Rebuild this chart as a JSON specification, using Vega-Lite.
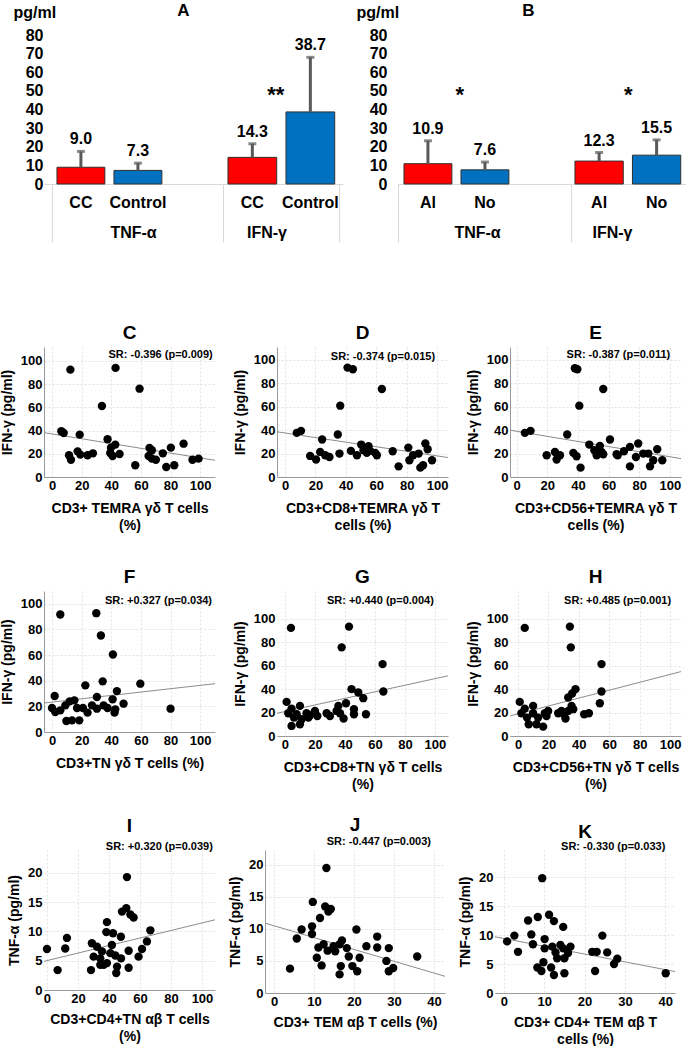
{
  "$schema": "https://vega.github.io/schema/vega-lite/v6.json",
  "padding": {"left": 0, "top": 2, "right": 0, "bottom": 0},
  "background": "white",
  "config": {
    "font": "Liberation Sans",
    "view": {"stroke": null},
    "axis": {"labelFontSize": 13, "labelFontWeight": "bold", "labelColor": "#000", "titleFontSize": 14, "titleFontWeight": "bold", "titleColor": "#000", "ticks": false, "domainColor": "#9a9a9a", "grid": true, "gridColor": "#e3e3e3", "gridDash": [2, 2], "labelPadding": 2, "titlePadding": 6, "titleLineHeight": 17, "labelOverlap": false, "labelFlush": false},
    "axisX": {"titlePadding": 9},
    "title": {"fontSize": 19, "fontWeight": "bold", "color": "#000", "offset": 4},
    "text": {"color": "#000"}
  },
  "datasets": {
    "barsA": [
      {"cytokine": "TNF-α", "group": "CC", "mean": 9.0, "upper": 17.5},
      {"cytokine": "TNF-α", "group": "Control", "mean": 7.3, "upper": 11.2},
      {"cytokine": "IFN-γ", "group": "CC", "mean": 14.3, "upper": 21.6},
      {"cytokine": "IFN-γ", "group": "Control", "mean": 38.7, "upper": 68.0}
    ],
    "barsB": [
      {"cytokine": "TNF-α", "group": "Al", "mean": 10.9, "upper": 23.2},
      {"cytokine": "TNF-α", "group": "No", "mean": 7.6, "upper": 11.8},
      {"cytokine": "IFN-γ", "group": "Al", "mean": 12.3, "upper": 16.9},
      {"cytokine": "IFN-γ", "group": "No", "mean": 15.5, "upper": 23.7}
    ],
    "ptsC": [{"x":12.4,"y":92.5},{"x":42.9,"y":94},{"x":59.1,"y":76.1},{"x":33.7,"y":61.2},{"x":6.3,"y":39.4},{"x":7.9,"y":37.9},{"x":18.7,"y":36.5},{"x":37.5,"y":32.5},{"x":42.7,"y":27.9},{"x":39.8,"y":25.3},{"x":11.5,"y":18.7},{"x":12.8,"y":14.9},{"x":17.3,"y":22.1},{"x":19.1,"y":19.3},{"x":24,"y":18.7},{"x":27.6,"y":20.4},{"x":39.3,"y":20.7},{"x":40.9,"y":18.1},{"x":45.6,"y":19.8},{"x":56.2,"y":10.1},{"x":65.2,"y":18.1},{"x":67.4,"y":23},{"x":65.8,"y":25},{"x":70.1,"y":14.9},{"x":74.8,"y":20.4},{"x":77.1,"y":8.6},{"x":80.2,"y":25.3},{"x":82.5,"y":10.1},{"x":88.8,"y":28.7},{"x":94.8,"y":14.9},{"x":98.9,"y":15.8},{"x":67.4,"y":15.8}],
    "fitC": [{"x": -5.4, "y": 38.2}, {"x": 110, "y": 14.4}],
    "ptsD": [{"x":41.1,"y":93.4},{"x":44.6,"y":92},{"x":63.7,"y":75.1},{"x":36.3,"y":60.9},{"x":7.7,"y":37.7},{"x":10.5,"y":39.4},{"x":24.4,"y":32},{"x":34.7,"y":36.3},{"x":16.5,"y":18},{"x":20.4,"y":14.9},{"x":23.1,"y":21.4},{"x":26.4,"y":18.6},{"x":29.2,"y":17.1},{"x":35.8,"y":20},{"x":43.3,"y":22.3},{"x":47.3,"y":18.6},{"x":50.1,"y":27.7},{"x":51.6,"y":22.9},{"x":53.8,"y":20.6},{"x":54.9,"y":26.3},{"x":60.4,"y":18.6},{"x":59.3,"y":20.6},{"x":70.8,"y":22},{"x":74.7,"y":9.1},{"x":81.1,"y":25.1},{"x":81.8,"y":14.3},{"x":84.2,"y":18.6},{"x":87.9,"y":20},{"x":89,"y":8},{"x":90.8,"y":10},{"x":92.3,"y":28.6},{"x":93.8,"y":23.7},{"x":96.7,"y":14.3},{"x":56,"y":22.3}],
    "fitD": [{"x": -5.3, "y": 38.6}, {"x": 107.2, "y": 16.6}],
    "ptsE": [{"x":38,"y":92.9},{"x":39.6,"y":92},{"x":56.5,"y":75.1},{"x":40.9,"y":60.9},{"x":5.4,"y":37.7},{"x":9.1,"y":39.4},{"x":33,"y":36.3},{"x":60.9,"y":32},{"x":19.6,"y":18.6},{"x":25,"y":21.4},{"x":26.1,"y":14.9},{"x":28.3,"y":18.6},{"x":37,"y":20.6},{"x":39.1,"y":17.7},{"x":41.7,"y":8},{"x":47.4,"y":27.7},{"x":50.7,"y":22.9},{"x":52.2,"y":18.6},{"x":54.3,"y":26.6},{"x":55.4,"y":21.4},{"x":56.5,"y":19.4},{"x":65.2,"y":19.4},{"x":70,"y":22},{"x":73.9,"y":25.7},{"x":73.9,"y":9.1},{"x":79.3,"y":28.6},{"x":77.8,"y":17.1},{"x":82.6,"y":20},{"x":85.9,"y":20},{"x":87,"y":9.1},{"x":89.1,"y":14.3},{"x":91.7,"y":23.7},{"x":95,"y":14.3},{"x":65.9,"y":18.6}],
    "fitE": [{"x": -4.3, "y": 40}, {"x": 107.2, "y": 15.7}],
    "ptsF": [{"x":5.6,"y":91.7},{"x":29.9,"y":92.7},{"x":33,"y":75.3},{"x":41.1,"y":60.5},{"x":34.2,"y":39.5},{"x":22.5,"y":36.4},{"x":59.6,"y":37.7},{"x":43.8,"y":31.9},{"x":1.8,"y":28.1},{"x":30.3,"y":27.3},{"x":40.9,"y":25.5},{"x":48.3,"y":22.1},{"x":0,"y":18.7},{"x":2.2,"y":15.6},{"x":5.6,"y":16.9},{"x":9,"y":20.8},{"x":11.9,"y":23.9},{"x":15.1,"y":24.7},{"x":9.7,"y":8.6},{"x":13.5,"y":9.1},{"x":18.4,"y":9.1},{"x":16.9,"y":18.7},{"x":20.9,"y":18.7},{"x":24,"y":15.1},{"x":27,"y":20.8},{"x":30.3,"y":18.2},{"x":34.8,"y":20.8},{"x":37.5,"y":18.7},{"x":42.2,"y":15.1},{"x":42.7,"y":17.7},{"x":80,"y":18.2}],
    "fitF": [{"x": -5.4, "y": 22.6}, {"x": 110, "y": 37.7}],
    "ptsG": [{"x":4,"y":92.3},{"x":42.7,"y":93.4},{"x":37.8,"y":75.7},{"x":65.1,"y":61.4},{"x":65.6,"y":38},{"x":44.4,"y":40},{"x":48.9,"y":37.1},{"x":52.2,"y":32.3},{"x":40.7,"y":28},{"x":35.6,"y":25.7},{"x":1.1,"y":29.1},{"x":10,"y":25.7},{"x":46,"y":22.9},{"x":46,"y":18.6},{"x":54,"y":18.6},{"x":39.1,"y":14.9},{"x":2.2,"y":19.4},{"x":4.4,"y":23.4},{"x":6,"y":15.7},{"x":4.4,"y":8.6},{"x":10,"y":10},{"x":14.4,"y":19.4},{"x":15.6,"y":15.7},{"x":20,"y":21.4},{"x":21.6,"y":17.1},{"x":27.8,"y":19.4},{"x":30,"y":17.1},{"x":34.4,"y":21.4},{"x":36.7,"y":19.4},{"x":7.8,"y":18.6},{"x":11.1,"y":14.3},{"x":16.7,"y":17.7}],
    "fitG": [{"x": -5.3, "y": 19.4}, {"x": 108.7, "y": 51.4}],
    "ptsH": [{"x":4.4,"y":92.3},{"x":34.1,"y":93.4},{"x":34.7,"y":75.7},{"x":54.9,"y":61.4},{"x":54.9,"y":38},{"x":53.8,"y":28},{"x":37.8,"y":40},{"x":35.6,"y":36.3},{"x":33,"y":32.9},{"x":35.2,"y":25.7},{"x":1.1,"y":29.1},{"x":9.9,"y":25.7},{"x":36.3,"y":22.9},{"x":43.5,"y":18.6},{"x":46.6,"y":19.4},{"x":31.2,"y":14.9},{"x":2.2,"y":19.4},{"x":4.4,"y":23.4},{"x":5.9,"y":15.7},{"x":7,"y":10},{"x":12.1,"y":10},{"x":16.5,"y":8},{"x":17.6,"y":19.4},{"x":19.8,"y":21.4},{"x":18.7,"y":17.1},{"x":26.4,"y":19.4},{"x":28.6,"y":21.4},{"x":30.3,"y":18.6},{"x":33,"y":21.4},{"x":9.9,"y":19.4},{"x":13.2,"y":15.7}],
    "fitH": [{"x": -5.3, "y": 17.1}, {"x": 107.2, "y": 55}],
    "ptsI": [{"x":0,"y":7},{"x":6.9,"y":3.4},{"x":11.8,"y":7.1},{"x":12.9,"y":8.9},{"x":29,"y":8},{"x":28.4,"y":3.4},{"x":32.3,"y":7.4},{"x":34.4,"y":5.4},{"x":35.5,"y":6.6},{"x":34.4,"y":4.3},{"x":38.7,"y":4.6},{"x":38.7,"y":11.6},{"x":38.3,"y":9.9},{"x":42.6,"y":9.7},{"x":41.9,"y":7.7},{"x":40.9,"y":6.3},{"x":44.1,"y":5.9},{"x":44.7,"y":2.9},{"x":45.2,"y":4},{"x":47.7,"y":9.1},{"x":48.4,"y":13.4},{"x":51.2,"y":14},{"x":51.6,"y":19.3},{"x":53.8,"y":12.9},{"x":55.9,"y":12.4},{"x":52.7,"y":6.7},{"x":47.8,"y":5.4},{"x":52.7,"y":3.8},{"x":59.1,"y":5.7},{"x":61.3,"y":7},{"x":64.5,"y":8.3},{"x":66.7,"y":10.2},{"x":30.1,"y":5.7},{"x":36.6,"y":4.3}],
    "fitI": [{"x": -1.9, "y": 4.9}, {"x": 108.4, "y": 12}],
    "ptsJ": [{"x":4,"y":3.8},{"x":5.7,"y":8.5},{"x":6.9,"y":9.9},{"x":9.5,"y":10.4},{"x":9.5,"y":9.2},{"x":9.7,"y":14.2},{"x":11.5,"y":11.7},{"x":13.1,"y":19.5},{"x":12.8,"y":13.5},{"x":13.6,"y":12.7},{"x":14.2,"y":13.1},{"x":10.7,"y":5.5},{"x":11.9,"y":4.3},{"x":11.1,"y":7.1},{"x":12.4,"y":7.6},{"x":13.4,"y":6.6},{"x":14.9,"y":7.3},{"x":15.3,"y":6.5},{"x":16.4,"y":7.6},{"x":17,"y":8.2},{"x":16.7,"y":4.2},{"x":16.4,"y":2.9},{"x":18.2,"y":7},{"x":18.7,"y":5.7},{"x":19.6,"y":4.2},{"x":20.8,"y":3.4},{"x":20.6,"y":9.9},{"x":21.4,"y":5.5},{"x":23.1,"y":7.3},{"x":25.8,"y":8.8},{"x":25.8,"y":7.1},{"x":28.1,"y":5},{"x":28.7,"y":7},{"x":28.7,"y":3.4},{"x":29.8,"y":3.9},{"x":35.8,"y":5.7}],
    "fitJ": [{"x": -2.25, "y": 10.9}, {"x": 42.75, "y": 2.6}],
    "ptsK": [{"x":0.8,"y":8.9},{"x":2.6,"y":9.9},{"x":3.5,"y":7.1},{"x":6,"y":12.5},{"x":6.8,"y":10.1},{"x":7.2,"y":8.4},{"x":8.4,"y":13.1},{"x":8.3,"y":4.4},{"x":9.3,"y":3.8},{"x":9.8,"y":5.3},{"x":10.1,"y":9.3},{"x":10.1,"y":7.7},{"x":11.2,"y":13.5},{"x":9.5,"y":19.8},{"x":12.4,"y":12.4},{"x":12,"y":8},{"x":11.7,"y":4.4},{"x":12.4,"y":3.1},{"x":13.2,"y":6},{"x":12.8,"y":7},{"x":14.7,"y":11.4},{"x":14.7,"y":7.7},{"x":15,"y":3.4},{"x":15,"y":6},{"x":15.9,"y":6.9},{"x":16.5,"y":8},{"x":21.9,"y":7.1},{"x":23,"y":7.1},{"x":22.6,"y":3.8},{"x":24.4,"y":9.9},{"x":25.6,"y":7},{"x":27.3,"y":5},{"x":28.1,"y":5.9},{"x":40.1,"y":3.4},{"x":14,"y":8.3}],
    "fitK": [{"x": -2.2, "y": 9.7}, {"x": 42.4, "y": 3.7}]
  },
  "vconcat": [
    {
      "hconcat": [
        {
          "title": {"text": "A", "fontSize": 17, "anchor": "middle", "dx": 12, "offset": -16},
          "hconcat": [
            {
              "vconcat": [
                {
                  "width": 179, "height": 149,
                  "data": {"name": "barsA"},
                  "transform": [{"filter": {"field": "cytokine", "equal": "TNF-α"}}],
                  "encoding": {"x": {"field": "group", "type": "nominal", "scale": {"type": "band", "domain": ["CC", "Control"], "paddingInner": 0.16, "paddingOuter": 0.65, "align": 0.175}, "axis": {"labels": false, "ticks": false, "grid": false, "title": null, "domain": true, "domainColor": "#d9d9d9"}}},
                  "layer": [
                    {"mark": {"type": "bar", "stroke": "#303030", "strokeWidth": 1},
                     "encoding": {
                       "y": {"field": "mean", "type": "quantitative", "scale": {"domain": [0, 80], "nice": false}, "axis": {"values": [0,10,20,30,40,50,60,70,80], "tickCount": 20, "labelOverlap": false, "title": "pg/ml", "titleAngle": 0, "titleAlign": "left", "titleBaseline": "middle", "titleX": -31, "titleY": -23, "titleFontSize": 16, "labelFontSize": 16, "labelPadding": 1, "domain": false, "grid": false, "minExtent": 44}},
                       "color": {"field": "group", "type": "nominal", "scale": {"domain": ["CC", "Control"], "range": ["#ff0000", "#0070c0"]}, "legend": null}}},
                    {"mark": {"type": "rule", "color": "#595959", "strokeWidth": 3}, "encoding": {"y": {"field": "mean", "type": "quantitative"}, "y2": {"field": "upper"}}},
                    {"mark": {"type": "tick", "color": "#595959", "thickness": 3, "size": 8}, "encoding": {"y": {"field": "upper", "type": "quantitative"}}},
                    {"mark": {"type": "text", "baseline": "bottom", "dy": -4, "fontSize": 16, "fontWeight": "bold"}, "encoding": {"y": {"field": "upper", "type": "quantitative"}, "text": {"field": "mean", "type": "quantitative", "format": ".1f"}}}
                  ]
                },
                {
                  "width": 179, "height": 58,
                  "data": {"name": "barsA"},
                  "transform": [{"filter": {"field": "cytokine", "equal": "TNF-α"}}],
                  "layer": [
                    {"mark": {"type": "text", "fontSize": 16, "fontWeight": "bold"},
                     "encoding": {
                       "x": {"field": "group", "type": "nominal", "scale": {"type": "band", "domain": ["CC", "Control"], "paddingInner": 0.16, "paddingOuter": 0.65, "align": 0.175}, "axis": null},
                       "y": {"datum": 0.68, "scale": {"domain": [0, 1]}, "axis": {"title": null, "labels": false, "ticks": false, "grid": false, "domain": true, "domainColor": "#d9d9d9", "minExtent": 0, "offset": -8}},
                       "text": {"field": "group", "type": "nominal"}}},
                    {"transform": [{"aggregate": [{"op": "count", "as": "n"}], "groupby": ["cytokine"]}],
                     "mark": {"type": "text", "fontSize": 16, "fontWeight": "bold", "dx": 0},
                     "encoding": {"y": {"datum": 0.15}, "text": {"field": "cytokine", "type": "nominal"}}}
                  ]
                }
              ],
              "spacing": 0, "bounds": "flush",
              "resolve": {"scale": {"x": "independent", "y": "independent"}}
            },
            {
              "vconcat": [
                {
                  "width": 120, "height": 149,
                  "data": {"name": "barsA"},
                  "transform": [{"filter": {"field": "cytokine", "equal": "IFN-γ"}}],
                  "encoding": {"x": {"field": "group", "type": "nominal", "scale": {"type": "band", "domain": ["CC", "Control"], "paddingInner": 0.16, "paddingOuter": 0.1145, "align": 0.376}, "axis": {"labels": false, "ticks": false, "grid": false, "title": null, "domain": true, "domainColor": "#d9d9d9"}}},
                  "layer": [
                    {"mark": {"type": "bar", "stroke": "#303030", "strokeWidth": 1},
                     "encoding": {
                       "y": {"field": "mean", "type": "quantitative", "scale": {"domain": [0, 80], "nice": false}, "axis": null},
                       "color": {"field": "group", "type": "nominal", "scale": {"domain": ["CC", "Control"], "range": ["#ff0000", "#0070c0"]}, "legend": null}}},
                    {"mark": {"type": "rule", "color": "#595959", "strokeWidth": 3}, "encoding": {"y": {"field": "mean", "type": "quantitative", "axis": null}, "y2": {"field": "upper"}}},
                    {"mark": {"type": "tick", "color": "#595959", "thickness": 3, "size": 8}, "encoding": {"y": {"field": "upper", "type": "quantitative", "axis": null}}},
                    {"mark": {"type": "text", "baseline": "bottom", "dy": -4, "fontSize": 16, "fontWeight": "bold"}, "encoding": {"y": {"field": "upper", "type": "quantitative", "axis": null}, "text": {"field": "mean", "type": "quantitative", "format": ".1f"}}},
                    {"data": {"values": [{"cytokine": "IFN-γ", "group": "CC", "sig": "**"}]},
                     "mark": {"type": "text", "fontSize": 22, "fontWeight": "bold", "dx": -1},
                     "encoding": {"x": {"field": "group", "type": "nominal", "bandPosition": 1}, "y": {"datum": 48, "axis": null}, "text": {"field": "sig", "type": "nominal"}}}
                  ]
                },
                {
                  "width": 120, "height": 58,
                  "data": {"name": "barsA"},
                  "transform": [{"filter": {"field": "cytokine", "equal": "IFN-γ"}}],
                  "layer": [
                    {"mark": {"type": "text", "fontSize": 16, "fontWeight": "bold"},
                     "encoding": {
                       "x": {"field": "group", "type": "nominal", "scale": {"type": "band", "domain": ["CC", "Control"], "paddingInner": 0.16, "paddingOuter": 0.1145, "align": 0.376}, "axis": null},
                       "y": {"datum": 0.68, "scale": {"domain": [0, 1]}, "axis": {"title": null, "labels": false, "ticks": false, "grid": false, "domain": true, "domainColor": "#d9d9d9", "minExtent": 0}},
                       "text": {"field": "group", "type": "nominal"}}},
                    {"transform": [{"aggregate": [{"op": "count", "as": "n"}], "groupby": ["cytokine"]}],
                     "mark": {"type": "text", "fontSize": 16, "fontWeight": "bold", "dx": -16},
                     "encoding": {"y": {"datum": 0.15, "axis": {"orient": "right", "title": null, "labels": false, "ticks": false, "grid": false, "domain": true, "domainColor": "#d9d9d9", "minExtent": 0, "offset": -4}}, "text": {"field": "cytokine", "type": "nominal"}}}
                  ],
                  "resolve": {"axis": {"y": "independent"}}
                }
              ],
              "spacing": 0, "bounds": "flush",
              "resolve": {"scale": {"x": "independent", "y": "independent"}}
            }
          ],
          "spacing": 0,
          "resolve": {"scale": {"x": "independent", "y": "independent", "color": "independent"}}
        },
        {
          "title": {"text": "B", "fontSize": 17, "anchor": "middle", "dx": 14, "offset": -16},
          "hconcat": [
            {
              "vconcat": [
                {
                  "width": 173, "height": 149,
                  "data": {"name": "barsB"},
                  "transform": [{"filter": {"field": "cytokine", "equal": "TNF-α"}}],
                  "encoding": {"x": {"field": "group", "type": "nominal", "scale": {"type": "band", "domain": ["Al", "No"], "paddingInner": 0.16, "paddingOuter": 0.5975, "align": 0.088}, "axis": {"labels": false, "ticks": false, "grid": false, "title": null, "domain": true, "domainColor": "#d9d9d9"}}},
                  "layer": [
                    {"mark": {"type": "bar", "stroke": "#303030", "strokeWidth": 1},
                     "encoding": {
                       "y": {"field": "mean", "type": "quantitative", "scale": {"domain": [0, 80], "nice": false}, "axis": {"values": [0,10,20,30,40,50,60,70,80], "tickCount": 20, "labelOverlap": false, "title": "pg/ml", "titleAngle": 0, "titleAlign": "left", "titleBaseline": "middle", "titleX": -42, "titleY": -23, "titleFontSize": 16, "labelFontSize": 16, "labelPadding": 11, "domain": false, "grid": false, "minExtent": 55}},
                       "color": {"field": "group", "type": "nominal", "scale": {"domain": ["Al", "No"], "range": ["#ff0000", "#0070c0"]}, "legend": null}}},
                    {"mark": {"type": "rule", "color": "#595959", "strokeWidth": 3}, "encoding": {"y": {"field": "mean", "type": "quantitative"}, "y2": {"field": "upper"}}},
                    {"mark": {"type": "tick", "color": "#595959", "thickness": 3, "size": 8}, "encoding": {"y": {"field": "upper", "type": "quantitative"}}},
                    {"mark": {"type": "text", "baseline": "bottom", "dy": -4, "fontSize": 16, "fontWeight": "bold"}, "encoding": {"y": {"field": "upper", "type": "quantitative"}, "text": {"field": "mean", "type": "quantitative", "format": ".1f"}}},
                    {"data": {"values": [{"cytokine": "TNF-α", "group": "Al", "sig": "*"}]},
                     "mark": {"type": "text", "fontSize": 22, "fontWeight": "bold", "dx": 8},
                     "encoding": {"x": {"field": "group", "type": "nominal", "bandPosition": 1}, "y": {"datum": 48}, "text": {"field": "sig", "type": "nominal"}}}
                  ]
                },
                {
                  "width": 173, "height": 58,
                  "data": {"name": "barsB"},
                  "transform": [{"filter": {"field": "cytokine", "equal": "TNF-α"}}],
                  "layer": [
                    {"mark": {"type": "text", "fontSize": 16, "fontWeight": "bold"},
                     "encoding": {
                       "x": {"field": "group", "type": "nominal", "scale": {"type": "band", "domain": ["Al", "No"], "paddingInner": 0.16, "paddingOuter": 0.5975, "align": 0.088}, "axis": null},
                       "y": {"datum": 0.68, "scale": {"domain": [0, 1]}, "axis": {"title": null, "labels": false, "ticks": false, "grid": false, "domain": true, "domainColor": "#d9d9d9", "minExtent": 0}},
                       "text": {"field": "group", "type": "nominal"}}},
                    {"transform": [{"aggregate": [{"op": "count", "as": "n"}], "groupby": ["cytokine"]}],
                     "mark": {"type": "text", "fontSize": 16, "fontWeight": "bold", "dx": -7},
                     "encoding": {"y": {"datum": 0.15}, "text": {"field": "cytokine", "type": "nominal"}}}
                  ]
                }
              ],
              "spacing": 0, "bounds": "flush",
              "resolve": {"scale": {"x": "independent", "y": "independent"}}
            },
            {
              "vconcat": [
                {
                  "width": 115, "height": 149,
                  "data": {"name": "barsB"},
                  "transform": [{"filter": {"field": "cytokine", "equal": "IFN-γ"}}],
                  "encoding": {"x": {"field": "group", "type": "nominal", "scale": {"type": "band", "domain": ["Al", "No"], "paddingInner": 0.16, "paddingOuter": 0.08, "align": 0.43}, "axis": {"labels": false, "ticks": false, "grid": false, "title": null, "domain": true, "domainColor": "#d9d9d9"}}},
                  "layer": [
                    {"mark": {"type": "bar", "stroke": "#303030", "strokeWidth": 1},
                     "encoding": {
                       "y": {"field": "mean", "type": "quantitative", "scale": {"domain": [0, 80], "nice": false}, "axis": null},
                       "color": {"field": "group", "type": "nominal", "scale": {"domain": ["Al", "No"], "range": ["#ff0000", "#0070c0"]}, "legend": null}}},
                    {"mark": {"type": "rule", "color": "#595959", "strokeWidth": 3}, "encoding": {"y": {"field": "mean", "type": "quantitative", "axis": null}, "y2": {"field": "upper"}}},
                    {"mark": {"type": "tick", "color": "#595959", "thickness": 3, "size": 8}, "encoding": {"y": {"field": "upper", "type": "quantitative", "axis": null}}},
                    {"mark": {"type": "text", "baseline": "bottom", "dy": -4, "fontSize": 16, "fontWeight": "bold"}, "encoding": {"y": {"field": "upper", "type": "quantitative", "axis": null}, "text": {"field": "mean", "type": "quantitative", "format": ".1f"}}},
                    {"data": {"values": [{"cytokine": "IFN-γ", "group": "Al", "sig": "*"}]},
                     "mark": {"type": "text", "fontSize": 22, "fontWeight": "bold", "dx": 5},
                     "encoding": {"x": {"field": "group", "type": "nominal", "bandPosition": 1}, "y": {"datum": 48, "axis": null}, "text": {"field": "sig", "type": "nominal"}}}
                  ]
                },
                {
                  "width": 115, "height": 58,
                  "data": {"name": "barsB"},
                  "transform": [{"filter": {"field": "cytokine", "equal": "IFN-γ"}}],
                  "layer": [
                    {"mark": {"type": "text", "fontSize": 16, "fontWeight": "bold"},
                     "encoding": {
                       "x": {"field": "group", "type": "nominal", "scale": {"type": "band", "domain": ["Al", "No"], "paddingInner": 0.16, "paddingOuter": 0.08, "align": 0.43}, "axis": null},
                       "y": {"datum": 0.68, "scale": {"domain": [0, 1]}, "axis": {"title": null, "labels": false, "ticks": false, "grid": false, "domain": true, "domainColor": "#d9d9d9", "minExtent": 0}},
                       "text": {"field": "group", "type": "nominal"}}},
                    {"transform": [{"aggregate": [{"op": "count", "as": "n"}], "groupby": ["cytokine"]}],
                     "mark": {"type": "text", "fontSize": 16, "fontWeight": "bold", "dx": -16},
                     "encoding": {"y": {"datum": 0.15}, "text": {"field": "cytokine", "type": "nominal"}}}
                  ]
                }
              ],
              "spacing": 0, "bounds": "flush",
              "resolve": {"scale": {"x": "independent", "y": "independent"}}
            }
          ],
          "spacing": 0,
          "resolve": {"scale": {"x": "independent", "y": "independent", "color": "independent"}}
        }
      ],
      "spacing": 0,
      "resolve": {"scale": {"x": "independent", "y": "independent", "color": "independent"}}
    },
    {
      "vconcat": [
        {
          "hconcat": [
            {"width": 171, "height": 130, "title": {"text": "C"},
             "layer": [
               {"data": {"name": "fitC"}, "mark": {"type": "line", "color": "#8c8c8c", "strokeWidth": 1},
                "encoding": {"x": {"field": "x", "type": "quantitative", "scale": {"domain": [-5.4, 110], "nice": false, "zero": false}, "axis": {"values": [0,20,40,60,80,100], "tickCount": 20, "title": ["CD3+ TEMRA γδ T cells", "(%)"]}},
                             "y": {"field": "y", "type": "quantitative", "scale": {"domain": [0, 112], "nice": false}, "axis": {"values": [0,20,40,60,80,100], "tickCount": 20, "title": "IFN-γ (pg/ml)"}}}},
               {"data": {"name": "ptsC"}, "mark": {"type": "circle", "size": 70, "color": "#000", "opacity": 1},
                "encoding": {"x": {"field": "x", "type": "quantitative"}, "y": {"field": "y", "type": "quantitative"}}},
               {"data": {"values": [{"t": "SR: -0.396 (p=0.009)"}]}, "mark": {"type": "text", "align": "right", "fontSize": 11, "fontWeight": "bold"},
                "encoding": {"x": {"datum": 108.5}, "y": {"datum": 105}, "text": {"field": "t", "type": "nominal"}}}
             ]},
            {"width": 171, "height": 130, "title": {"text": "D"},
             "layer": [
               {"data": {"name": "fitD"}, "mark": {"type": "line", "color": "#8c8c8c", "strokeWidth": 1},
                "encoding": {"x": {"field": "x", "type": "quantitative", "scale": {"domain": [-5.3, 107.2], "nice": false, "zero": false}, "axis": {"values": [0,20,40,60,80,100], "tickCount": 20, "title": ["CD3+CD8+TEMRA γδ T", "cells (%)"]}},
                             "y": {"field": "y", "type": "quantitative", "scale": {"domain": [0, 111], "nice": false}, "axis": {"values": [0,20,40,60,80,100], "tickCount": 20, "title": "IFN-γ (pg/ml)"}}}},
               {"data": {"name": "ptsD"}, "mark": {"type": "circle", "size": 70, "color": "#000", "opacity": 1},
                "encoding": {"x": {"field": "x", "type": "quantitative"}, "y": {"field": "y", "type": "quantitative"}}},
               {"data": {"values": [{"t": "SR: -0.374 (p=0.015)"}]}, "mark": {"type": "text", "align": "right", "fontSize": 11, "fontWeight": "bold"},
                "encoding": {"x": {"datum": 98.7}, "y": {"datum": 102.6}, "text": {"field": "t", "type": "nominal"}}}
             ]},
            {"width": 171, "height": 130, "title": {"text": "E"},
             "layer": [
               {"data": {"name": "fitE"}, "mark": {"type": "line", "color": "#8c8c8c", "strokeWidth": 1},
                "encoding": {"x": {"field": "x", "type": "quantitative", "scale": {"domain": [-4.3, 107.2], "nice": false, "zero": false}, "axis": {"values": [0,20,40,60,80,100], "tickCount": 20, "title": ["CD3+CD56+TEMRA γδ T", "cells (%)"]}},
                             "y": {"field": "y", "type": "quantitative", "scale": {"domain": [0, 111], "nice": false}, "axis": {"values": [0,20,40,60,80,100], "tickCount": 20, "title": "IFN-γ (pg/ml)"}}}},
               {"data": {"name": "ptsE"}, "mark": {"type": "circle", "size": 70, "color": "#000", "opacity": 1},
                "encoding": {"x": {"field": "x", "type": "quantitative"}, "y": {"field": "y", "type": "quantitative"}}},
               {"data": {"values": [{"t": "SR: -0.387 (p=0.011)"}]}, "mark": {"type": "text", "align": "right", "fontSize": 11, "fontWeight": "bold"},
                "encoding": {"x": {"datum": 100.2}, "y": {"datum": 104}, "text": {"field": "t", "type": "nominal"}}}
             ]}
          ],
          "spacing": 16,
          "resolve": {"scale": {"x": "independent", "y": "independent"}}
        },
        {
          "vconcat": [
            {
              "hconcat": [
                {"width": 171, "height": 141, "title": {"text": "F"},
                 "layer": [
                   {"data": {"name": "fitF"}, "mark": {"type": "line", "color": "#8c8c8c", "strokeWidth": 1},
                    "encoding": {"x": {"field": "x", "type": "quantitative", "scale": {"domain": [-5.4, 110], "nice": false, "zero": false}, "axis": {"values": [0,20,40,60,80,100], "tickCount": 20, "title": "CD3+TN γδ T cells (%)"}},
                                 "y": {"field": "y", "type": "quantitative", "scale": {"domain": [0, 110], "nice": false}, "axis": {"values": [0,20,40,60,80,100], "tickCount": 20, "title": "IFN-γ (pg/ml)"}}}},
                   {"data": {"name": "ptsF"}, "mark": {"type": "circle", "size": 70, "color": "#000", "opacity": 1},
                    "encoding": {"x": {"field": "x", "type": "quantitative"}, "y": {"field": "y", "type": "quantitative"}}},
                   {"data": {"values": [{"t": "SR: +0.327 (p=0.034)"}]}, "mark": {"type": "text", "align": "right", "fontSize": 11, "fontWeight": "bold"},
                    "encoding": {"x": {"datum": 108}, "y": {"datum": 102.3}, "text": {"field": "t", "type": "nominal"}}}
                 ]},
                {"width": 171, "height": 145, "title": {"text": "G"},
                 "layer": [
                   {"data": {"name": "fitG"}, "mark": {"type": "line", "color": "#8c8c8c", "strokeWidth": 1},
                    "encoding": {"x": {"field": "x", "type": "quantitative", "scale": {"domain": [-5.3, 108.7], "nice": false, "zero": false}, "axis": {"values": [0,20,40,60,80,100], "tickCount": 20, "title": ["CD3+CD8+TN γδ T cells", "(%)"]}},
                                 "y": {"field": "y", "type": "quantitative", "scale": {"domain": [0, 123.8], "nice": false}, "axis": {"values": [0,20,40,60,80,100], "tickCount": 20, "title": "IFN-γ (pg/ml)", "domain": false}}}},
                   {"mark": {"type": "rule", "color": "#9a9a9a", "strokeWidth": 1},
                    "encoding": {"x": {"datum": -5.3}, "y": {"datum": 0}, "y2": {"datum": 111}}},
                   {"data": {"name": "ptsG"}, "mark": {"type": "circle", "size": 70, "color": "#000", "opacity": 1},
                    "encoding": {"x": {"field": "x", "type": "quantitative"}, "y": {"field": "y", "type": "quantitative"}}},
                   {"data": {"values": [{"t": "SR: +0.440 (p=0.004)"}]}, "mark": {"type": "text", "align": "right", "fontSize": 11, "fontWeight": "bold"},
                    "encoding": {"x": {"datum": 99.3}, "y": {"datum": 115.4}, "text": {"field": "t", "type": "nominal"}}}
                 ]},
                {"width": 171, "height": 145, "title": {"text": "H"},
                 "layer": [
                   {"data": {"name": "fitH"}, "mark": {"type": "line", "color": "#8c8c8c", "strokeWidth": 1},
                    "encoding": {"x": {"field": "x", "type": "quantitative", "scale": {"domain": [-5.3, 107.2], "nice": false, "zero": false}, "axis": {"values": [0,20,40,60,80,100], "tickCount": 20, "title": ["CD3+CD56+TN γδ T cells", "(%)"]}},
                                 "y": {"field": "y", "type": "quantitative", "scale": {"domain": [0, 123.8], "nice": false}, "axis": {"values": [0,20,40,60,80,100], "tickCount": 20, "title": "IFN-γ (pg/ml)", "domain": false}}}},
                   {"mark": {"type": "rule", "color": "#9a9a9a", "strokeWidth": 1},
                    "encoding": {"x": {"datum": -5.3}, "y": {"datum": 0}, "y2": {"datum": 111}}},
                   {"data": {"name": "ptsH"}, "mark": {"type": "circle", "size": 70, "color": "#000", "opacity": 1},
                    "encoding": {"x": {"field": "x", "type": "quantitative"}, "y": {"field": "y", "type": "quantitative"}}},
                   {"data": {"values": [{"t": "SR: +0.485 (p=0.001)"}]}, "mark": {"type": "text", "align": "right", "fontSize": 11, "fontWeight": "bold"},
                    "encoding": {"x": {"datum": 100.7}, "y": {"datum": 115.4}, "text": {"field": "t", "type": "nominal"}}}
                 ]}
              ],
              "spacing": 16,
              "resolve": {"scale": {"x": "independent", "y": "independent"}}
            },
            {
              "hconcat": [
                {"width": 171, "height": 140, "title": {"text": "I", "offset": 5},
                 "layer": [
                   {"data": {"name": "fitI"}, "mark": {"type": "line", "color": "#8c8c8c", "strokeWidth": 1},
                    "encoding": {"x": {"field": "x", "type": "quantitative", "scale": {"domain": [-1.9, 108.4], "nice": false, "zero": false}, "axis": {"values": [0,20,40,60,80,100], "tickCount": 20, "titlePadding": 7, "title": ["CD3+CD4+TN αβ T cells", "(%)"]}},
                                 "y": {"field": "y", "type": "quantitative", "scale": {"domain": [0, 23.93], "nice": false}, "axis": {"values": [0,5,10,15,20], "tickCount": 20, "title": "TNF-α (pg/ml)", "domain": false}}}},
                   {"mark": {"type": "rule", "color": "#9a9a9a", "strokeWidth": 1},
                    "encoding": {"x": {"datum": -1.9}, "y": {"datum": 0}, "y2": {"datum": 22.2}}},
                   {"data": {"name": "ptsI"}, "mark": {"type": "circle", "size": 70, "color": "#000", "opacity": 1},
                    "encoding": {"x": {"field": "x", "type": "quantitative"}, "y": {"field": "y", "type": "quantitative"}}},
                   {"data": {"values": [{"t": "SR: +0.320 (p=0.039)"}]}, "mark": {"type": "text", "align": "right", "fontSize": 11, "fontWeight": "bold"},
                    "encoding": {"x": {"datum": 107}, "y": {"datum": 24.4}, "text": {"field": "t", "type": "nominal"}}}
                 ]},
                {"width": 180, "height": 143, "title": {"text": "J", "offset": 1},
                 "layer": [
                   {"data": {"name": "fitJ"}, "mark": {"type": "line", "color": "#8c8c8c", "strokeWidth": 1},
                    "encoding": {"x": {"field": "x", "type": "quantitative", "scale": {"domain": [-2.25, 42.75], "nice": false, "zero": false}, "axis": {"values": [0,10,20,30,40], "tickCount": 20, "titlePadding": 7, "title": "CD3+ TEM αβ T cells (%)"}},
                                 "y": {"field": "y", "type": "quantitative", "scale": {"domain": [0, 22.3], "nice": false}, "axis": {"values": [0,5,10,15,20], "tickCount": 20, "title": "TNF-α (pg/ml)"}}}},
                   {"data": {"name": "ptsJ"}, "mark": {"type": "circle", "size": 70, "color": "#000", "opacity": 1},
                    "encoding": {"x": {"field": "x", "type": "quantitative"}, "y": {"field": "y", "type": "quantitative"}}},
                   {"data": {"values": [{"t": "SR: -0.447 (p=0.003)"}]}, "mark": {"type": "text", "align": "right", "fontSize": 11, "fontWeight": "bold"},
                    "encoding": {"x": {"datum": 39.25}, "y": {"datum": 23.6}, "text": {"field": "t", "type": "nominal"}}}
                 ]},
                {"width": 180, "height": 143, "title": {"text": "K", "offset": -1},
                 "layer": [
                   {"data": {"name": "fitK"}, "mark": {"type": "line", "color": "#8c8c8c", "strokeWidth": 1},
                    "encoding": {"x": {"field": "x", "type": "quantitative", "scale": {"domain": [-2.2, 42.4], "nice": false, "zero": false}, "axis": {"values": [0,10,20,30,40], "tickCount": 20, "titlePadding": 7, "title": ["CD3+ CD4+ TEM αβ T", "cells (%)"]}},
                                 "y": {"field": "y", "type": "quantitative", "scale": {"domain": [0, 24.66], "nice": false}, "axis": {"values": [0,5,10,15,20], "tickCount": 20, "title": "TNF-α (pg/ml)", "domain": false}}}},
                   {"mark": {"type": "rule", "color": "#9a9a9a", "strokeWidth": 1},
                    "encoding": {"x": {"datum": -2.2}, "y": {"datum": 0}, "y2": {"datum": 22.6}}},
                   {"data": {"name": "ptsK"}, "mark": {"type": "circle", "size": 70, "color": "#000", "opacity": 1},
                    "encoding": {"x": {"field": "x", "type": "quantitative"}, "y": {"field": "y", "type": "quantitative"}}},
                   {"data": {"values": [{"t": "SR: -0.330 (p=0.033)"}]}, "mark": {"type": "text", "align": "right", "fontSize": 11, "fontWeight": "bold"},
                    "encoding": {"x": {"datum": 40}, "y": {"datum": 25.2}, "text": {"field": "t", "type": "nominal"}}}
                 ]}
              ],
              "spacing": 11,
              "resolve": {"scale": {"x": "independent", "y": "independent"}}
            }
          ],
          "spacing": 24,
          "resolve": {"scale": {"x": "independent", "y": "independent"}}
        }
      ],
      "spacing": 36,
      "resolve": {"scale": {"x": "independent", "y": "independent"}}
    }
  ],
  "spacing": 82,
  "resolve": {"scale": {"x": "independent", "y": "independent", "color": "independent"}}
}
